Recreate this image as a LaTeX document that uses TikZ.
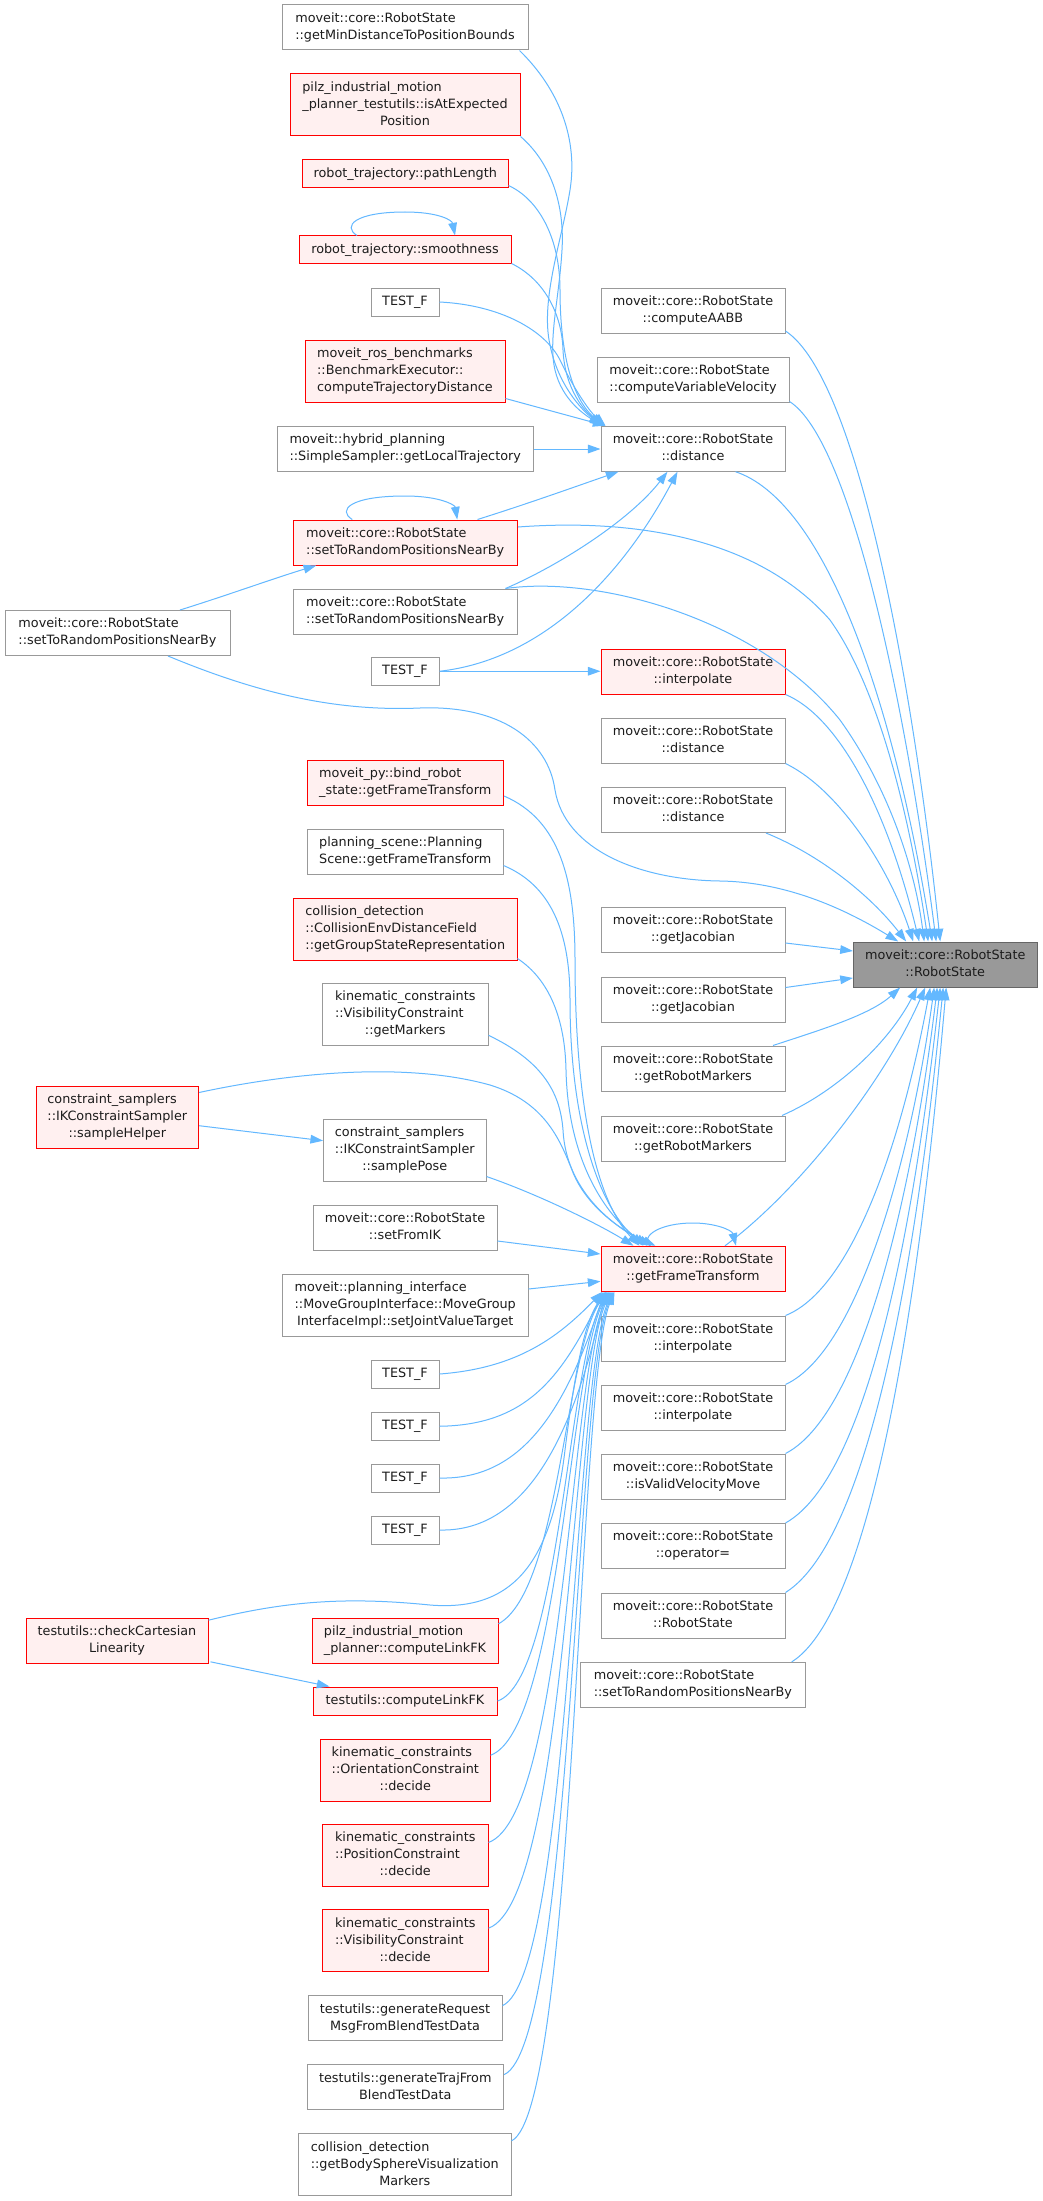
\documentclass[tikz,border=0pt]{standalone}
\usepackage{fontspec}
\setmainfont{DejaVu Sans}
\usetikzlibrary{arrows.meta,calc}
\definecolor{edgec}{HTML}{63B8FF}
\definecolor{redb}{HTML}{FF0000}
\definecolor{redf}{HTML}{FFF0F0}
\definecolor{grayb}{HTML}{999999}
\definecolor{rootf}{HTML}{999999}
\definecolor{rootb}{HTML}{666666}
\definecolor{txt}{HTML}{1C1C1C}
\newcommand{\twoln}[2]{\begin{tabular}{@{}l@{}}#1\\\multicolumn{1}{@{}c@{}}{#2}\end{tabular}}
\newcommand{\threeln}[3]{\begin{tabular}{@{}l@{}}#1\\#2\\\multicolumn{1}{@{}c@{}}{#3}\end{tabular}}
\tikzset{
  nd/.style={draw, rectangle, inner sep=0pt, text=txt, line width=0.75pt,
    font=\fontsize{9.6pt}{12.75pt}\selectfont},
  gb/.style={nd, draw=grayb, fill=white},
  rb/.style={nd, draw=redb, fill=redf},
  rootbox/.style={nd, draw=rootb, fill=rootf},
  wh/.style 2 args={minimum width=#1*0.75pt, minimum height=#2*0.75pt},
  e/.style={draw=edgec, line width=0.75pt, -{Triangle[length=9.5pt,width=6.5pt]}}
}
\begin{document}
\begin{tikzpicture}[x=0.75pt,y=-0.75pt]
\fill[white] (0,0) rectangle (1042,2201);
\useasboundingbox (0,0) rectangle (1042,2201);
% ---------- left column ----------
\node[gb, wh={246}{45}] (a1) at (405,27.5) {\twoln{moveit::core::RobotState}{::getMinDistanceToPositionBounds}};
\node[rb, wh={230}{62}] (a2) at (405,105) {\threeln{pilz\_industrial\_motion}{\_planner\_testutils::isAtExpected}{Position}};
\node[rb, wh={205.5}{28}] (a3) at (405.25,174) {robot\_trajectory::pathLength};
\node[rb, wh={212}{28}] (a4) at (405,250) {robot\_trajectory::smoothness};
\node[gb, wh={68}{28}] (a5) at (405,302) {TEST\_F};
\node[rb, wh={200}{62}] (a6) at (405,371) {\threeln{moveit\_ros\_benchmarks}{::BenchmarkExecutor::}{computeTrajectoryDistance}};
\node[gb, wh={255.5}{45}] (a7) at (405.25,449) {\twoln{moveit::hybrid\_planning}{::SimpleSampler::getLocalTrajectory}};
\node[rb, wh={224.5}{45}] (a8) at (405.25,542.5) {\twoln{moveit::core::RobotState}{::setToRandomPositionsNearBy}};
\node[gb, wh={224.5}{45}] (a9) at (405.25,611.5) {\twoln{moveit::core::RobotState}{::setToRandomPositionsNearBy}};
\node[gb, wh={68}{28}] (a10) at (405,671.25) {TEST\_F};
\node[rb, wh={196.5}{45}] (a11) at (405.25,782.5) {\twoln{moveit\_py::bind\_robot}{\_state::getFrameTransform}};
\node[gb, wh={195.5}{45}] (a12) at (405.25,851.5) {\twoln{planning\_scene::Planning}{Scene::getFrameTransform}};
\node[rb, wh={223.4}{62}] (a13) at (405.3,929) {\threeln{collision\_detection}{::CollisionEnvDistanceField}{::getGroupStateRepresentation}};
\node[gb, wh={165.5}{62}] (a14) at (405.25,1014.3) {\threeln{kinematic\_constraints}{::VisibilityConstraint}{::getMarkers}};
\node[gb, wh={162.4}{62}] (a15) at (404.8,1150) {\threeln{constraint\_samplers}{::IKConstraintSampler}{::samplePose}};
\node[gb, wh={184}{45}] (a16) at (405,1227.5) {\twoln{moveit::core::RobotState}{::setFromIK}};
\node[gb, wh={245.5}{62}] (a17) at (405.25,1305) {\threeln{moveit::planning\_interface}{::MoveGroupInterface::MoveGroup}{InterfaceImpl::setJointValueTarget}};
\node[gb, wh={68}{28}] (a18) at (405,1374) {TEST\_F};
\node[gb, wh={68}{28}] (a19) at (405,1426.25) {TEST\_F};
\node[gb, wh={68}{28}] (a20) at (405,1478) {TEST\_F};
\node[gb, wh={68}{28}] (a21) at (405,1530) {TEST\_F};
\node[rb, wh={186}{45}] (a22) at (405,1640.8) {\twoln{pilz\_industrial\_motion}{\_planner::computeLinkFK}};
\node[rb, wh={184}{28}] (a23) at (405,1701) {testutils::computeLinkFK};
\node[rb, wh={169.3}{62}] (a24) at (405.35,1770.25) {\threeln{kinematic\_constraints}{::OrientationConstraint}{::decide}};
\node[rb, wh={165.5}{62}] (a25) at (405.25,1855.45) {\threeln{kinematic\_constraints}{::PositionConstraint}{::decide}};
\node[rb, wh={165.5}{62}] (a26) at (405.25,1940.65) {\threeln{kinematic\_constraints}{::VisibilityConstraint}{::decide}};
\node[gb, wh={194}{45}] (a27) at (405,2018.1) {\twoln{testutils::generateRequest}{MsgFromBlendTestData}};
\node[gb, wh={196.6}{45}] (a28) at (405.3,2087.4) {\twoln{testutils::generateTrajFrom}{BlendTestData}};
\node[gb, wh={212.4}{62}] (a29) at (404.8,2164.85) {\threeln{collision\_detection}{::getBodySphereVisualization}{Markers}};
% far left
\node[gb, wh={225}{45}] (b1) at (117.5,633) {\twoln{moveit::core::RobotState}{::setToRandomPositionsNearBy}};
\node[rb, wh={162.6}{62}] (b2) at (117.3,1117) {\threeln{constraint\_samplers}{::IKConstraintSampler}{::sampleHelper}};
\node[rb, wh={182}{45}] (b3) at (117,1640.8) {\twoln{testutils::checkCartesian}{Linearity}};
% ---------- right column ----------
\node[gb, wh={184}{45}] (c1) at (693,310.5) {\twoln{moveit::core::RobotState}{::computeAABB}};
\node[gb, wh={192}{45}] (c2) at (693,379.5) {\twoln{moveit::core::RobotState}{::computeVariableVelocity}};
\node[gb, wh={184}{45}] (c3) at (693,448.7) {\twoln{moveit::core::RobotState}{::distance}};
\node[rb, wh={184}{45}] (c4) at (693,671.5) {\twoln{moveit::core::RobotState}{::interpolate}};
\node[gb, wh={184}{45}] (c5) at (693,740.5) {\twoln{moveit::core::RobotState}{::distance}};
\node[gb, wh={184}{45}] (c6) at (693,810) {\twoln{moveit::core::RobotState}{::distance}};
\node[gb, wh={184}{45}] (c7) at (693,930) {\twoln{moveit::core::RobotState}{::getJacobian}};
\node[gb, wh={184}{45}] (c8) at (693,999.5) {\twoln{moveit::core::RobotState}{::getJacobian}};
\node[gb, wh={184}{45}] (c9) at (693,1068.5) {\twoln{moveit::core::RobotState}{::getRobotMarkers}};
\node[gb, wh={184}{45}] (c10) at (693,1138.5) {\twoln{moveit::core::RobotState}{::getRobotMarkers}};
\node[rb, wh={184}{45}] (c11) at (693,1268.75) {\twoln{moveit::core::RobotState}{::getFrameTransform}};
\node[gb, wh={184}{45}] (c12) at (693,1338.5) {\twoln{moveit::core::RobotState}{::interpolate}};
\node[gb, wh={184}{45}] (c13) at (693,1407.5) {\twoln{moveit::core::RobotState}{::interpolate}};
\node[gb, wh={184}{45}] (c14) at (693,1476.5) {\twoln{moveit::core::RobotState}{::isValidVelocityMove}};
\node[gb, wh={184}{45}] (c15) at (693,1546) {\twoln{moveit::core::RobotState}{::operator=}};
\node[gb, wh={184}{45}] (c16) at (693,1615.5) {\twoln{moveit::core::RobotState}{::RobotState}};
\node[gb, wh={224.6}{45}] (c17) at (692.9,1684.9) {\twoln{moveit::core::RobotState}{::setToRandomPositionsNearBy}};
\node[rootbox, wh={183.6}{45}] (r) at (945.2,964.5) {\twoln{moveit::core::RobotState}{::RobotState}};
% ---------- edges into c3 ----------
\draw[e] ($(a1.south east)+(-9,0)$) .. controls (560,90) and (578,140) .. (570,190) .. controls (562,240) and (540,300) .. (550,345) .. controls (558,385) and (582,410) .. ($(c3.north west)+(1,0)$);
\draw[e] (a2.south east) .. controls (548,160) and (565,200) .. (562,250) .. controls (559,300) and (548,340) .. (555,370) .. controls (562,400) and (585,415) .. ($(c3.north west)+(2,0)$);
\draw[e] ($(a3.south east)+(0,-3)$) .. controls (540,200) and (560,240) .. (560,290) .. controls (560,340) and (568,395) .. ($(c3.north west)+(3,0)$);
\draw[e] ($(a4.south east)+(0,-1)$) .. controls (545,280) and (562,315) .. (563,350) .. controls (565,390) and (585,412) .. ($(c3.north west)+(4,0)$);
\draw[e] (a5.east) .. controls (500,305) and (545,330) .. (560,360) .. controls (572,385) and (588,410) .. ($(c3.north west)+(5,0)$);
\draw[e] ($(a6.south east)+(0,-4)$) -- ($(c3.north west)+(5,0)$);
\draw[e] (a7.east) -- (a7.east -| c3.west);
\draw[e] ($(a8.north east)+(-40.5,0)$) .. controls (530,503) and (580,485) .. ($(c3.south west)+(18,0)$);
\draw[e] ($(a9.north east)+(-12.5,0)$) .. controls (560,565) and (630,520) .. ($(c3.south west)+(67,0)$);
\draw[e] (a10.east) .. controls (540,660) and (620,580) .. ($(c3.south west)+(77,0)$);
\draw[e] (a10.east) -- (a10.east -| c4.west);
% ---------- self loops ----------
\draw[e] ($(a4.north)+(-48,0)$) .. controls (342,226) and (355,212) .. (405,212) .. controls (438,212) and (452,220) .. ($(a4.north)+(50,0)$);
\draw[e] ($(a8.north)+(-53,0)$) .. controls (337,510) and (350,496) .. (405,496) .. controls (440,496) and (455,505) .. ($(a8.north)+(52,0)$);
\draw[e] ($(c11.north)+(-43,0)$) .. controls (640,1236) and (660,1223) .. (693,1223) .. controls (715,1223) and (732,1230) .. ($(c11.north)+(43,0)$);
% ---------- b1 ----------
\draw[e] ($(b1.north)+(62.5,0)$) .. controls (225,596) and (275,578) .. ($(a8.south)+(-89,0)$);
\draw[e] ($(b1.south)+(50.5,0)$) .. controls (250,690) and (330,712) .. (420,708) .. controls (500,705) and (548,740) .. (555,790) .. controls (565,850) and (640,880) .. (720,881) .. controls (790,882) and (850,912) .. ($(r.north)+(-47,0)$);
% ---------- into root from top ----------
\draw[e] ($(a8.east)+(0,-15.5)$) .. controls (640,518) and (760,540) .. (830,620) .. controls (880,690) and (910,820) .. ($(r.north)+(-17,0)$);
\draw[e] ($(a9.north east)+(-12.5,0)$) .. controls (600,575) and (760,620) .. (840,720) .. controls (890,790) and (915,870) .. ($(r.north)+(-21,0)$);
\draw[e] ($(c1.south east)+(0,-2.5)$) .. controls (860,380) and (915,700) .. ($(r.north)+(-5,0)$);
\draw[e] ($(c2.south east)+(0,-1)$) .. controls (850,440) and (905,700) .. ($(r.north)+(-9,0)$);
\draw[e] ($(c3.south)+(42.5,0)$) .. controls (820,500) and (890,680) .. ($(r.north)+(-13,0)$);
\draw[e] (c4.south east) .. controls (835,715) and (885,800) .. ($(r.north)+(-26,0)$);
\draw[e] (c5.south east) .. controls (840,790) and (890,870) .. ($(r.north)+(-32,0)$);
\draw[e] ($(c6.south)+(73,0)$) .. controls (820,855) and (870,895) .. ($(r.north)+(-39,0)$);
% ---------- into root from left ----------
\draw[e] ($(c7.east)+(0,13)$) -- ($(r.west)+(0,-13.5)$);
\draw[e] ($(c8.east)+(0,-12)$) -- ($(r.west)+(0,13.5)$);
% ---------- into root from below ----------
\draw[e] ($(c9.north)+(80,0)$) .. controls (820,1030) and (870,1015) .. ($(r.south)+(-45,0)$);
\draw[e] ($(c10.north)+(89,0)$) .. controls (840,1090) and (890,1040) .. ($(r.south)+(-28,0)$);
\draw[e] ($(c11.north)+(32,0)$) .. controls (800,1190) and (885,1080) .. ($(r.south)+(-20,0)$);
\draw[e] (c12.north east) .. controls (850,1290) and (900,1150) .. ($(r.south)+(-15,0)$);
\draw[e] (c13.north east) .. controls (860,1350) and (912,1150) .. ($(r.south)+(-11,0)$);
\draw[e] (c14.north east) .. controls (870,1410) and (918,1150) .. ($(r.south)+(-8,0)$);
\draw[e] (c15.north east) .. controls (880,1470) and (922,1150) .. ($(r.south)+(-5,0)$);
\draw[e] (c16.north east) .. controls (885,1530) and (927,1150) .. ($(r.south)+(-2,0)$);
\draw[e] ($(c17.north east)+(-14,0)$) .. controls (890,1600) and (932,1150) .. ($(r.south)+(1,0)$);
% ---------- into c11 from above ----------
\draw[e] ($(a15.south east)+(0,-5)$) .. controls (540,1195) and (600,1225) .. ($(c11.north west)+(33,0)$);
\draw[e] ($(a11.east)+(0,13.5)$) .. controls (560,820) and (575,880) .. (575,960) .. controls (575,1100) and (595,1200) .. ($(c11.north west)+(39,0)$);
\draw[e] ($(a12.east)+(0,14)$) .. controls (550,885) and (570,930) .. (570,1000) .. controls (570,1120) and (598,1205) .. ($(c11.north west)+(43,0)$);
\draw[e] ($(a13.south east)+(0,-2)$) .. controls (550,980) and (565,1020) .. (566,1070) .. controls (568,1160) and (605,1215) .. ($(c11.north west)+(47,0)$);
\draw[e] ($(a14.east)+(0,21)$) .. controls (540,1060) and (560,1090) .. (563,1130) .. controls (566,1190) and (612,1225) .. ($(c11.north west)+(51,0)$);
\draw[e] ($(b2.north east)+(0,7)$) .. controls (280,1075) and (400,1060) .. (490,1085) .. controls (545,1102) and (560,1140) .. (572,1170) .. controls (585,1205) and (620,1230) .. ($(c11.north west)+(55,0)$);
\draw[e] ($(b2.east)+(0,8.7)$) -- ($(a15.west)+(0,-9.3)$);
\draw[e] ($(a16.east)+(0,13.5)$) -- ($(c11.west)+(0,-14.75)$);
\draw[e] ($(a17.east)+(0,-16)$) -- ($(c11.west)+(0,12.6)$);
% ---------- into c11 from below ----------
\draw[e] (a18.east) .. controls (520,1368) and (560,1335) .. ($(c11.south west)+(2,0)$);
\draw[e] (a19.east) .. controls (525,1425) and (560,1380) .. ($(c11.south west)+(3,0)$);
\draw[e] (a20.east) .. controls (522,1480) and (565,1410) .. ($(c11.south west)+(4,0)$);
\draw[e] (a21.east) .. controls (520,1532) and (570,1450) .. ($(c11.south west)+(5,0)$);
\draw[e] ($(b3.north east)+(0,2.4)$) .. controls (290,1600) and (350,1597) .. (430,1605) .. controls (515,1612) and (552,1560) .. (565,1450) .. controls (575,1370) and (585,1320) .. ($(c11.south west)+(6,0)$);
\draw[e] ($(a22.east)+(0,-17)$) .. controls (560,1590) and (565,1350) .. ($(c11.south west)+(7,0)$);
\draw[e] (a23.east) .. controls (560,1680) and (568,1360) .. ($(c11.south west)+(8,0)$);
\draw[e] ($(a24.east)+(0,-15)$) .. controls (560,1730) and (570,1360) .. ($(c11.south west)+(9,0)$);
\draw[e] ($(a25.east)+(0,-13)$) .. controls (565,1815) and (570,1370) .. ($(c11.south west)+(10,0)$);
\draw[e] ($(a26.east)+(0,-12.5)$) .. controls (568,1900) and (572,1370) .. ($(c11.south west)+(11,0)$);
\draw[e] ($(a27.east)+(0,-12.5)$) .. controls (570,1975) and (574,1380) .. ($(c11.south west)+(12,0)$);
\draw[e] ($(a28.east)+(0,-12.8)$) .. controls (572,2045) and (576,1380) .. ($(c11.south west)+(13,0)$);
\draw[e] ($(a29.east)+(0,-24)$) .. controls (575,2110) and (578,1380) .. ($(c11.south west)+(14,0)$);
\draw[e] ($(b3.south east)+(2,-2)$) -- ($(a23.north west)+(17,0)$);
\end{tikzpicture}
\end{document}
